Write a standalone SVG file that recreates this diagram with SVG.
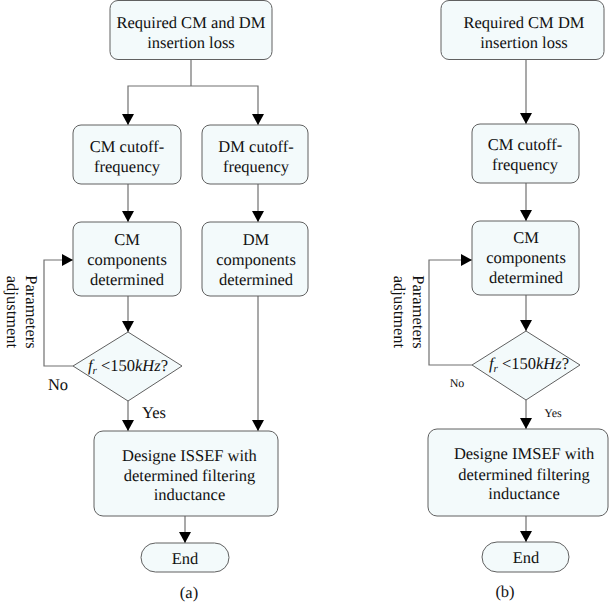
<svg xmlns="http://www.w3.org/2000/svg" width="609" height="611" viewBox="0 0 609 611">
<style>
.box{fill:#f3fafb;stroke:#606060;stroke-width:1}
text{font-family:'Liberation Serif','Times New Roman',serif;font-size:16.5px;fill:#111;text-anchor:middle;text-rendering:geometricPrecision}
.s{font-size:12px}
.i{font-style:italic}
.c{fill:none;stroke:#707070;stroke-width:1.2}
</style>
<defs>
<marker id="ar" markerUnits="userSpaceOnUse" markerWidth="12" markerHeight="12" refX="11" refY="6" orient="auto">
<path d="M0,0 L11,6 L0,12 z" fill="#000"/>
</marker>
</defs>
<rect width="609" height="611" fill="#fff"/>
<g id="connectors">
<path class="c" d="M191,59 V86"/>
<path class="c" d="M191,86 H128 V125" marker-end="url(#ar)"/>
<path class="c" d="M191,86 H258 V125" marker-end="url(#ar)"/>
<path class="c" d="M128,184 V222" marker-end="url(#ar)"/>
<path class="c" d="M258,184 V222" marker-end="url(#ar)"/>
<path class="c" d="M128,296 V332" marker-end="url(#ar)"/>
<path class="c" d="M73,366 H44 V260 H73" marker-end="url(#ar)"/>
<path class="c" d="M128,401 V431" marker-end="url(#ar)"/>
<path class="c" d="M258,296 V431" marker-end="url(#ar)"/>
<path class="c" d="M185,516 V543" marker-end="url(#ar)"/>
<path class="c" d="M526,59 V124" marker-end="url(#ar)"/>
<path class="c" d="M526,183 V221" marker-end="url(#ar)"/>
<path class="c" d="M526,295 V331" marker-end="url(#ar)"/>
<path class="c" d="M472,365 H429 V260 H472" marker-end="url(#ar)"/>
<path class="c" d="M526,400 V429" marker-end="url(#ar)"/>
<path class="c" d="M526,516 V542" marker-end="url(#ar)"/>
</g>
<g id="a-start">
<rect class="box" x="110" y="0.5" width="162" height="59" rx="8"/>
<text x="191" y="28">Required CM and DM</text>
<text x="191" y="48">insertion loss</text>
</g>
<g id="a-cm-cutoff">
<rect class="box" x="73" y="125" width="108" height="59" rx="8"/>
<text x="127" y="152">CM cutoff-</text>
<text x="127" y="172">frequency</text>
</g>
<g id="a-dm-cutoff">
<rect class="box" x="202" y="125" width="106" height="59" rx="8"/>
<text x="256" y="152">DM cutoff-</text>
<text x="256" y="172">frequency</text>
</g>
<g id="a-cm-comp">
<rect class="box" x="73" y="222" width="108" height="74" rx="8"/>
<text x="127" y="245">CM</text>
<text x="127" y="265">components</text>
<text x="127" y="285">determined</text>
</g>
<g id="a-dm-comp">
<rect class="box" x="202" y="222" width="106" height="74" rx="8"/>
<text x="256" y="245">DM</text>
<text x="256" y="265">components</text>
<text x="256" y="285">determined</text>
</g>
<g id="a-decision">
<polygon class="box" points="128,332 182,366 128,401 73,366"/>
<text x="128" y="371"><tspan class="i">f</tspan><tspan class="i" font-size="11px" dy="3">r</tspan><tspan dy="-3"> &lt;150</tspan><tspan class="i">kHz</tspan>?</text>
</g>
<g id="a-labels">
<text transform="translate(26,312) rotate(90)"><tspan x="0" y="0">Parameters</tspan><tspan x="0" y="19">adjustment</tspan></text>
<text x="58" y="390">No</text>
<text x="154" y="418">Yes</text>
</g>
<g id="a-design">
<rect class="box" x="94" y="431" width="184" height="85" rx="9"/>
<text x="189.5" y="461">Designe ISSEF with</text>
<text x="189.5" y="481">determined filtering</text>
<text x="189.5" y="500">inductance</text>
</g>
<g id="a-end">
<rect class="box" x="141" y="543" width="88" height="29" rx="14.5"/>
<text x="185" y="564">End</text>
</g>
<text x="189" y="598" font-size="18px">(a)</text>
<g id="b-start">
<rect class="box" x="441" y="0.5" width="163" height="59" rx="8"/>
<text x="524" y="28">Required CM DM</text>
<text x="524" y="48">insertion loss</text>
</g>
<g id="b-cm-cutoff">
<rect class="box" x="472" y="124" width="107" height="59" rx="8"/>
<text x="525" y="150">CM cutoff-</text>
<text x="525" y="170">frequency</text>
</g>
<g id="b-cm-comp">
<rect class="box" x="472" y="221" width="107" height="74" rx="8"/>
<text x="526" y="243">CM</text>
<text x="526" y="263">components</text>
<text x="526" y="283">determined</text>
</g>
<g id="b-decision">
<polygon class="box" points="526,331 580,365 526,400 472,365"/>
<text x="529" y="369"><tspan class="i">f</tspan><tspan class="i" font-size="11px" dy="3">r</tspan><tspan dy="-3"> &lt;150</tspan><tspan class="i">kHz</tspan>?</text>
</g>
<g id="b-labels">
<text transform="translate(413,312) rotate(90)"><tspan x="0" y="0">Parameters</tspan><tspan x="0" y="19">adjustment</tspan></text>
<text class="s" x="457" y="387">No</text>
<text class="s" x="553" y="417">Yes</text>
</g>
<g id="b-design">
<rect class="box" x="428" y="429" width="180" height="87" rx="9"/>
<text x="524" y="459">Designe IMSEF with</text>
<text x="524" y="480">determined filtering</text>
<text x="524" y="499">inductance</text>
</g>
<g id="b-end">
<rect class="box" x="482" y="542" width="87" height="30" rx="15"/>
<text x="526" y="563">End</text>
</g>
<text x="505" y="597" font-size="18px">(b)</text>
</svg>
